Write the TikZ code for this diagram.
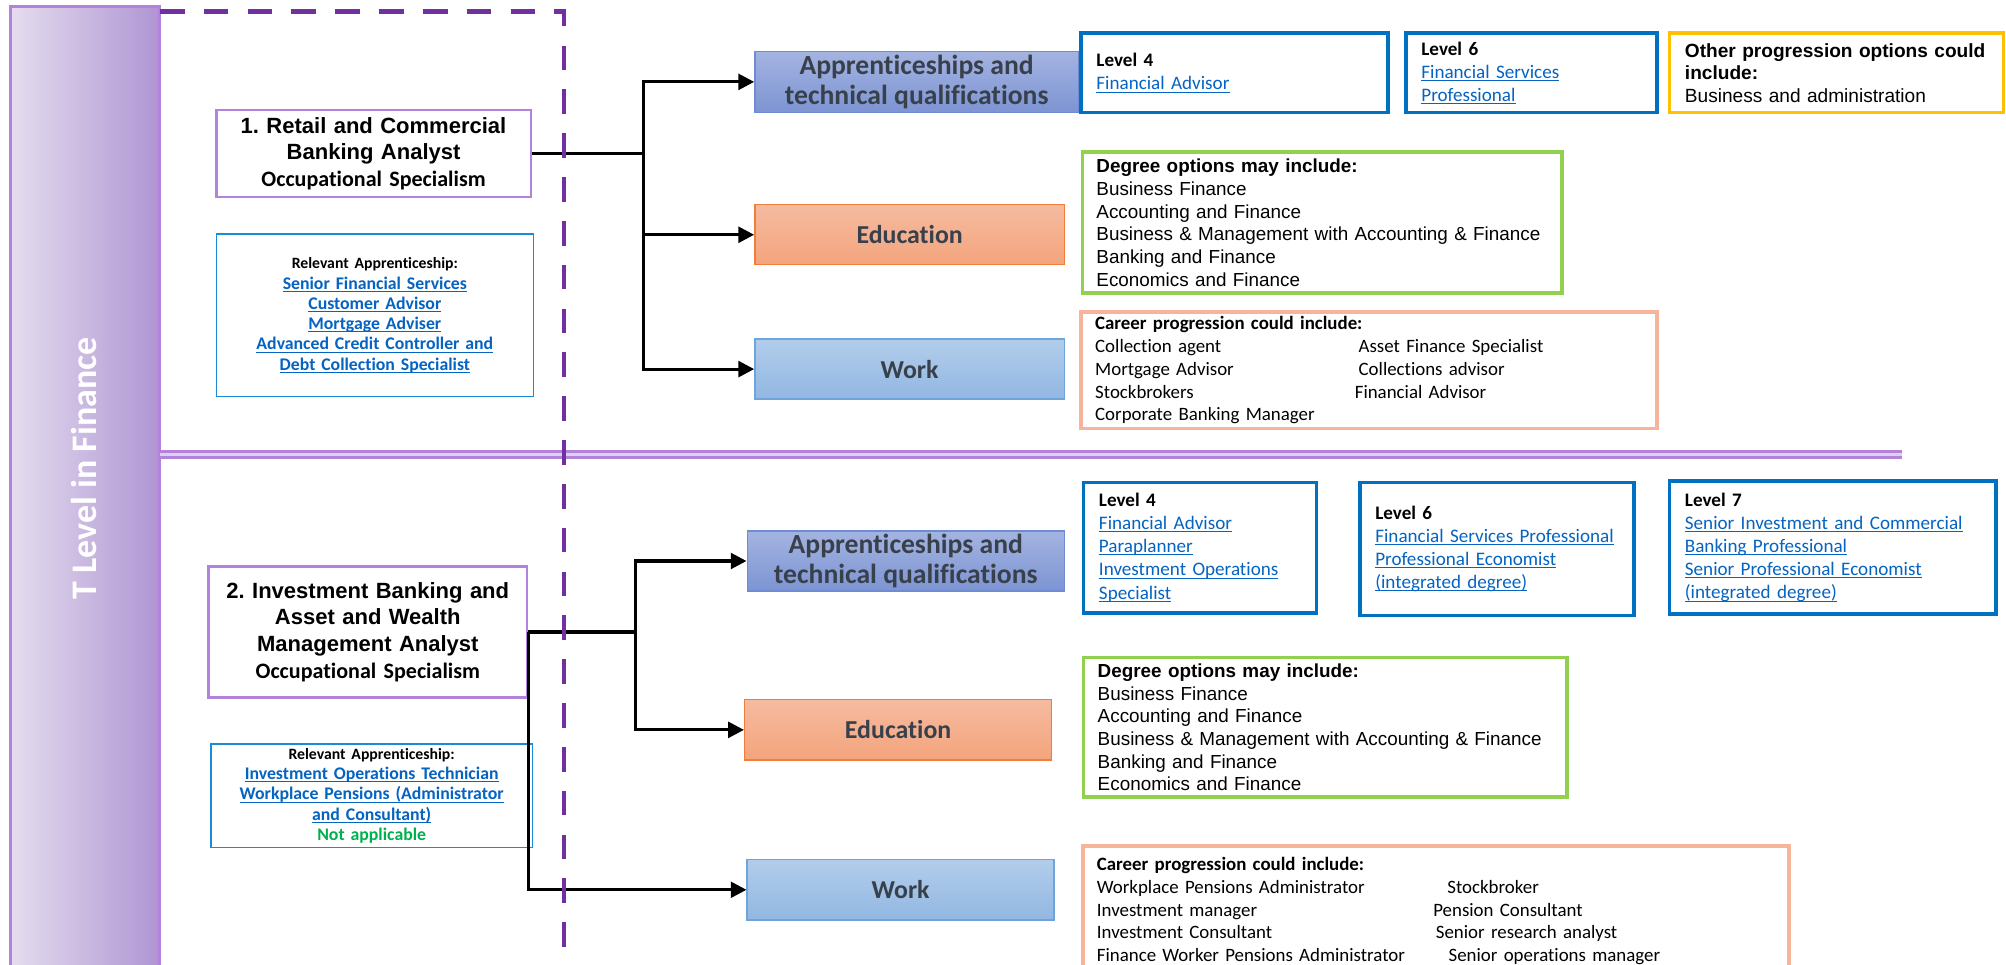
\documentclass[tikz,border=0pt]{standalone}
\usepackage{fontspec}
\setmainfont{Carlito}[Ligatures=CommonOff]
\newfontfamily\arialfont{Liberation Sans}
\usepackage{tikz}
\usetikzlibrary{arrows.meta, shapes, positioning}
\frenchspacing

\definecolor{barline}{HTML}{B383DB}
\definecolor{barL}{HTML}{E4DDEE}
\definecolor{barR}{HTML}{AF95D3}
\definecolor{dashpurple}{HTML}{7030A0}
\definecolor{sepin}{HTML}{DCD1EA}
\definecolor{relline}{HTML}{1C8AD4}
\definecolor{linkblue}{HTML}{0563C1}
\definecolor{okgreen}{HTML}{00B050}
\definecolor{headtxt}{HTML}{38404B}
\definecolor{appT}{HTML}{A4B4E1}
\definecolor{appB}{HTML}{7D94D3}
\definecolor{appline}{HTML}{6E8BD3}
\definecolor{eduT}{HTML}{F5BBA0}
\definecolor{eduB}{HTML}{F4A47C}
\definecolor{eduline}{HTML}{F07D3A}
\definecolor{workT}{HTML}{B2CDEB}
\definecolor{workB}{HTML}{92B7E2}
\definecolor{workline}{HTML}{6FA4DA}
\definecolor{levelblue}{HTML}{0070C0}
\definecolor{othergold}{HTML}{FFC000}
\definecolor{degreegreen}{HTML}{92D050}
\definecolor{careerpink}{HTML}{F6B49B}

\newcommand{\weblink}[1]{\leavevmode{\color{linkblue}\setbox0\hbox{#1}\rlap{\rule[-1.2pt]{\wd0}{0.45pt}}\box0}}

\tikzstyle{barfill} = [left color=barL, right color=barR, draw=barline, line width=1.3pt]
\tikzstyle{bartext} = [rotate=90, text=white, font=\fontsize{16}{19}\selectfont\bfseries]
\tikzstyle{dashline} = [dashpurple, line width=1.8pt, dash pattern=on 11pt off 8.5pt]
\tikzstyle{sepline} = [barline, line width=1.3pt, double=sepin, double distance=1.3pt]
\tikzstyle{titlebox} = [rectangle, draw=barline, line width=1.2pt, fill=white, align=center, inner sep=2pt, font=\arialfont\bfseries\fontsize{9.8}{11.8}\selectfont]
\tikzstyle{relbox} = [rectangle, draw=relline, line width=0.6pt, fill=white, align=center, inner sep=2pt, font=\bfseries\fontsize{7.9}{9}\selectfont]
\tikzstyle{apprbox} = [rectangle, draw=appline, line width=0.6pt, top color=appT, bottom color=appB, text=headtxt, align=center, inner sep=1pt, font=\bfseries\fontsize{12.3}{13.7}\selectfont]
\tikzstyle{edubox} = [rectangle, draw=eduline, line width=0.6pt, top color=eduT, bottom color=eduB, text=headtxt, font=\bfseries\fontsize{11.5}{13}\selectfont]
\tikzstyle{workbox} = [rectangle, draw=workline, line width=0.6pt, top color=workT, bottom color=workB, text=headtxt, font=\bfseries\fontsize{11.5}{13}\selectfont]
\tikzstyle{levelbox} = [rectangle, draw=levelblue, line width=1.6pt, align=left, inner xsep=0.24cm, inner ysep=2pt, font=\fontsize{8.5}{10.3}\selectfont]
\tikzstyle{otherbox} = [rectangle, draw=othergold, line width=1.6pt, align=left, inner xsep=0.24cm, inner ysep=2pt, font=\arialfont\fontsize{8.5}{10}\selectfont]
\tikzstyle{degreebox} = [rectangle, draw=degreegreen, line width=1.6pt, align=left, inner xsep=0.22cm, inner ysep=2pt, font=\arialfont\fontsize{8.4}{10.1}\selectfont]
\tikzstyle{careerbox} = [rectangle, draw=careerpink, line width=1.6pt, align=left, inner xsep=0.22cm, inner ysep=2pt, font=\fontsize{8.4}{10.1}\selectfont]
\tikzstyle{branch} = [line width=1.4pt]
\tikzstyle{arrow} = [line width=1.4pt, -{Triangle[length=7pt, width=7pt]}]

\begin{document}
\begin{tikzpicture}[x=0.02cm, y=-0.02cm]
\useasboundingbox (0,0) rectangle (1568,754);
\clip (0,0) rectangle (1568,754);

% side bar and frames
\path [barfill] (8,5) rectangle (125,775);
\node (tlevel) [bartext] at (66,366) {T Level in Finance};
\draw [sepline] (125,355) -- (1487,355);

% pathway 1
\node (rcb) [titlebox, minimum width=4.92cm, minimum height=1.36cm, text width=4.7cm] at (292,120)
  {1. Retail and Commercial\\Banking Analyst\\{\rmfamily Occupational Specialism}};
\node (rel1) [relbox, minimum width=4.96cm, minimum height=2.54cm, text width=4.7cm] at (293,246.5)
  {{\fontsize{7}{9}\selectfont Relevant Apprenticeship:}\\\weblink{Senior Financial Services}\\\weblink{Customer Advisor}\\\weblink{Mortgage Adviser}\\\weblink{Advanced Credit Controller and}\\\weblink{Debt Collection Specialist}};

\node (app1) [apprbox, minimum width=5.06cm, minimum height=0.96cm] at (716.5,64) {Apprenticeships and\\technical qualifications};
\node (edu1) [edubox, minimum width=4.84cm, minimum height=0.94cm] at (711,183.5) {Education};
\node (work1) [workbox, minimum width=4.84cm, minimum height=0.94cm] at (711,288.5) {Work};

\node (lvl4a) [levelbox, minimum width=4.8cm, minimum height=1.24cm, text width=4.32cm] at (965,57)
  {\textbf{Level 4}\\\weblink{Financial Advisor}};
\node (lvl6a) [levelbox, minimum width=3.92cm, minimum height=1.24cm, text width=3.44cm] at (1197,57)
  {\textbf{Level 6}\\\weblink{Financial Services}\\\weblink{Professional}};
\node (other1) [otherbox, minimum width=5.22cm, minimum height=1.24cm, text width=4.74cm] at (1435.5,57)
  {\textbf{Other progression options could}\\\textbf{include:}\\Business and administration};
\node (deg1) [degreebox, minimum width=7.5cm, minimum height=2.2cm, text width=7.06cm] at (1033.5,174)
  {\textbf{Degree options may include:}\\Business Finance\\Accounting and Finance\\Business \& Management with Accounting \& Finance\\Banking and Finance\\Economics and Finance};
\node (car1) [careerbox, minimum width=9cm, minimum height=1.82cm, text width=8.56cm] at (1070,289.5)
  {\textbf{Career progression could include:}\\
   \makebox[4.12cm][l]{Collection agent}Asset Finance Specialist\\
   \makebox[4.12cm][l]{Mortgage Advisor}Collections advisor\\
   \makebox[4.06cm][l]{Stockbrokers}Financial Advisor\\
   Corporate Banking Manager};

\coordinate (fork1) at (503,120);
\draw [branch] (rcb.east) -- (fork1);
\draw [arrow] (fork1) |- (app1.west);
\draw [arrow] (fork1) |- (edu1.west);
\draw [arrow] (fork1) |- (work1.west);

% pathway 2
\node (iba) [titlebox, minimum width=4.98cm, minimum height=2.04cm, text width=4.76cm] at (287.5,494)
  {2. Investment Banking and\\Asset and Wealth\\Management Analyst\\{\rmfamily Occupational Specialism}};
\node (rel2) [relbox, minimum width=5.02cm, minimum height=1.54cm, text width=4.8cm] at (290.5,622)
  {{\fontsize{7}{8.8}\selectfont Relevant Apprenticeship:}\\\weblink{Investment Operations Technician}\\\weblink{Workplace Pensions (Administrator}\\\weblink{and Consultant)}\\{\color{okgreen}Not applicable}};

\node (app2) [apprbox, minimum width=4.96cm, minimum height=0.94cm] at (708,438.5) {Apprenticeships and\\technical qualifications};
\node (edu2) [edubox, minimum width=4.8cm, minimum height=0.94cm] at (702,570.5) {Education};
\node (work2) [workbox, minimum width=4.8cm, minimum height=0.94cm] at (704,695.5) {Work};

\node (lvl4b) [levelbox, minimum width=3.64cm, minimum height=2.04cm, text width=3.16cm] at (938,428)
  {\textbf{Level 4}\\\weblink{Financial Advisor}\\\weblink{Paraplanner}\\\weblink{Investment Operations}\\\weblink{Specialist}};
\node (lvl6b) [levelbox, minimum width=4.28cm, minimum height=2.08cm, text width=3.8cm] at (1170,429)
  {\textbf{Level 6}\\\weblink{Financial Services Professional}\\\weblink{Professional Economist}\\\weblink{(integrated degree)}};
\node (lvl7b) [levelbox, minimum width=5.1cm, minimum height=2.08cm, text width=4.62cm] at (1432.5,428)
  {\textbf{Level 7}\\\weblink{Senior Investment and Commercial}\\\weblink{Banking Professional}\\\weblink{Senior Professional Economist}\\\weblink{(integrated degree)}};
\node (deg2) [degreebox, minimum width=7.56cm, minimum height=2.18cm, text width=7.12cm] at (1036,568.5)
  {\textbf{Degree options may include:}\\Business Finance\\Accounting and Finance\\Business \& Management with Accounting \& Finance\\Banking and Finance\\Economics and Finance};
\node (car2) [careerbox, anchor=north west, inner ysep=5pt, text width=10.6cm] at (845,660)
  {\textbf{Career progression could include:}\\
   \makebox[5.48cm][l]{Workplace Pensions Administrator}Stockbroker\\
   \makebox[5.26cm][l]{Investment manager}Pension Consultant\\
   \makebox[5.3cm][l]{Investment Consultant}Senior research analyst\\
   \makebox[5.5cm][l]{Finance Worker Pensions Administrator}Senior operations manager};

\coordinate (fork2) at (497,494);
\draw [branch] (iba.east) -- (fork2);
\draw [arrow] (fork2) |- (app2.west);
\draw [arrow] (fork2) |- (edu2.west);
\draw [arrow] (iba.east) |- (work2.west);

% dashed frame on top
\draw [dashline] (125,9) -- (441,9) -- (441,770);
\end{tikzpicture}
\end{document}
